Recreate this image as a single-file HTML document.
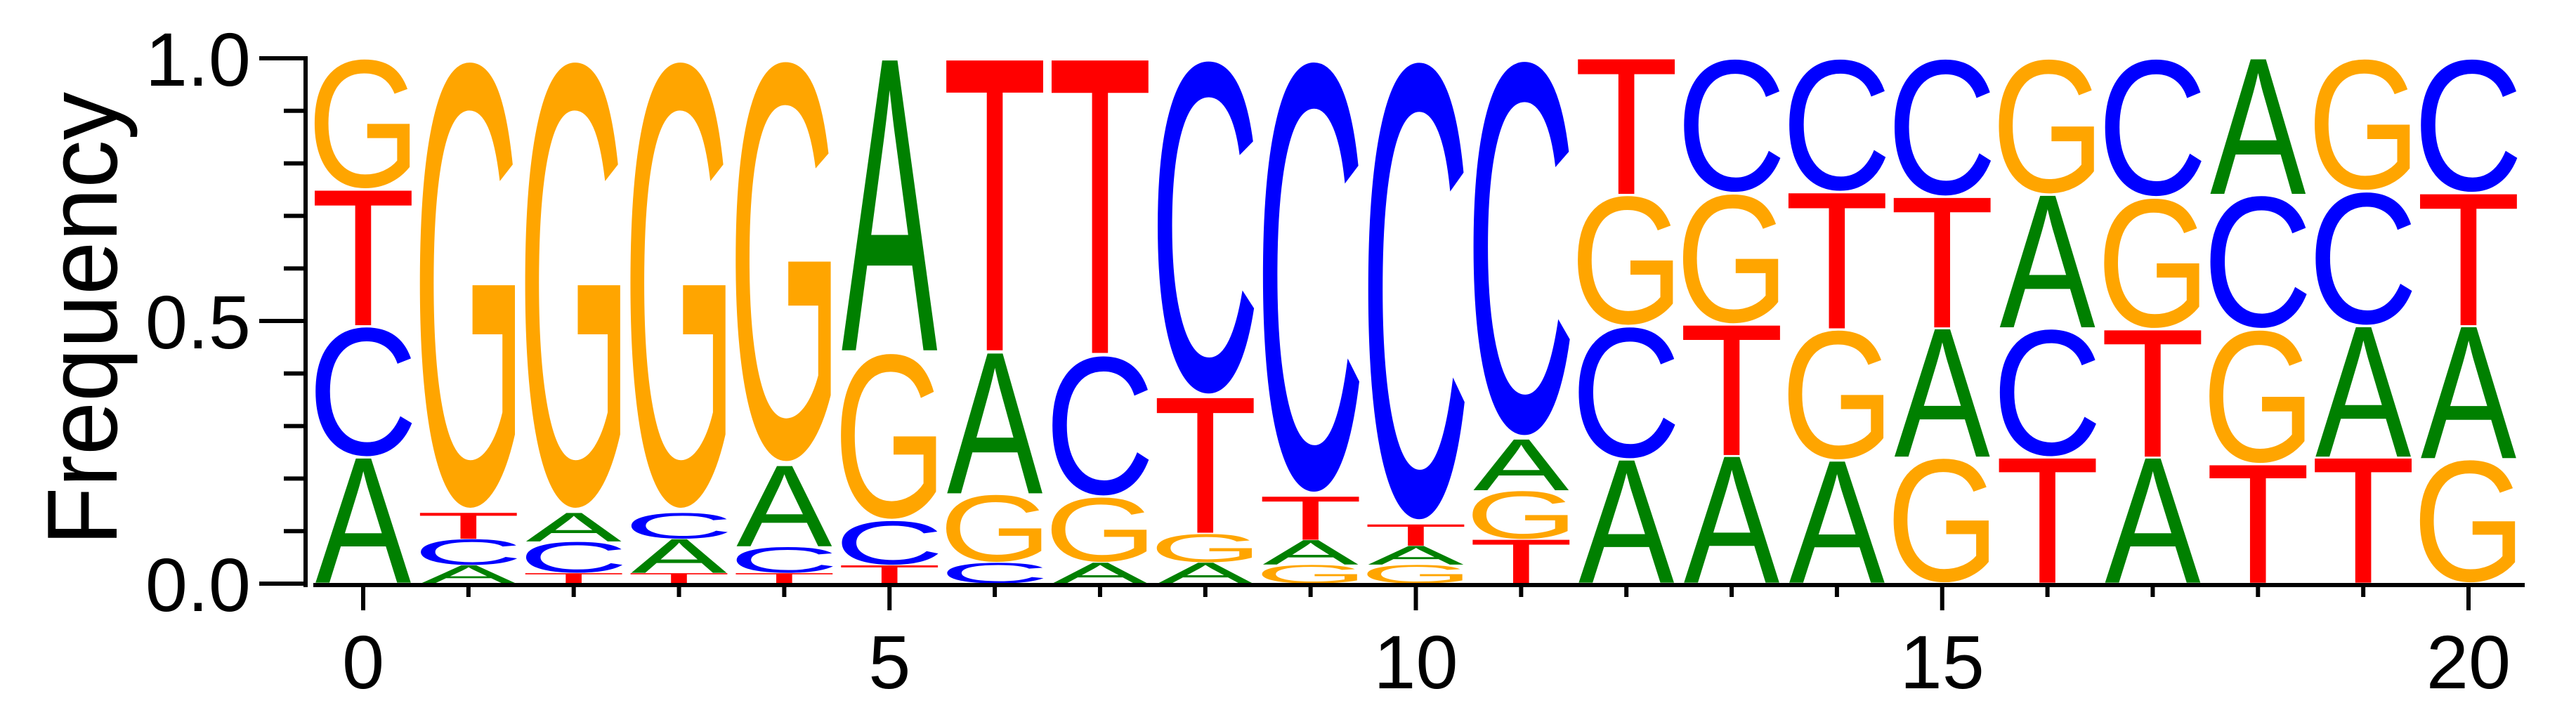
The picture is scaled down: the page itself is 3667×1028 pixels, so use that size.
<!DOCTYPE html>
<html><head><meta charset="utf-8"><style>
html,body{margin:0;padding:0;background:#fff;}
svg{display:block;}
</style></head><body>
<svg id="logo" width="3667" height="1028" viewBox="0 0 3667 1028" xmlns="http://www.w3.org/2000/svg">
<g id="letters"></g>
<g id="axes"></g>
</svg>
<script>
// Per-position stacks, bottom to top
const positions = [0,1,2,3,4,5,6,7,8,9,10,11,12,13,14,15,16,17,18,19,20];
const stackLetters = [
 ["A","C","T","G"],["A","C","T","G"],["T","C","A","G"],["T","A","C","G"],["T","C","A","G"],
 ["T","C","G","A"],["C","G","A","T"],["A","G","C","T"],["A","G","T","C"],["G","A","T","C"],
 ["G","A","T","C"],["T","G","A","C"],["A","C","G","T"],["A","T","G","C"],["A","G","T","C"],
 ["G","A","T","C"],["T","C","A","G"],["A","T","G","C"],["T","G","C","A"],["T","A","C","G"],
 ["G","A","T","C"]
];
const stackValues = [
 [0.24,0.25,0.26,0.25],[0.035,0.05,0.05,0.865],[0.02,0.06,0.055,0.865],[0.02,0.065,0.05,0.865],[0.02,0.05,0.155,0.775],
 [0.035,0.085,0.32,0.56],[0.04,0.13,0.27,0.56],[0.04,0.125,0.27,0.565],[0.04,0.055,0.26,0.645],[0.036,0.047,0.083,0.834],
 [0.036,0.036,0.041,0.887],[0.084,0.093,0.098,0.725],[0.236,0.254,0.25,0.26],[0.243,0.25,0.25,0.257],[0.234,0.25,0.261,0.255],
 [0.24,0.246,0.25,0.264],[0.24,0.246,0.254,0.26],[0.24,0.244,0.251,0.265],[0.227,0.257,0.256,0.26],[0.24,0.25,0.257,0.253],
 [0.237,0.253,0.253,0.257]
];
const yTicks = [0,0.1,0.2,0.3,0.4,0.5,0.6,0.7,0.8,0.9,1.0];
const yTickLabels = {"0":"0.0","0.5":"0.5","1":"1.0"};
const xTickLabels = [0,5,10,15,20];

const NS="http://www.w3.org/2000/svg";
const colors={A:"#008000",C:"#0000ff",G:"#ffa500",T:"#ff0000"};
// ink bbox in font units (Liberation Sans, 2048 upm)
const ink={A:[-3,0,1369,1409],C:[97,-25,1393,1433],G:[109,-25,1463,1433],T:[50,0,1201,1409]};
const X=p=>517+p*149.85;
const Y=f=>831-f*748;
const letterW=137;

const lg=document.getElementById('letters');
positions.forEach((p,i)=>{
  let acc=0;
  stackLetters[i].forEach((L,j)=>{
    const v=stackValues[i][j];
    const y0=Y(acc), y1=Y(acc+v);
    acc+=v;
    const h=(y0-y1)*0.985;
    const b=ink[L];
    const sx=letterW/(b[2]-b[0]), sy=h/(b[3]-b[1]);
    const x0=X(p)-letterW/2;
    const t=document.createElementNS(NS,'text');
    
    
    t.setAttribute('font-family','"Liberation Sans", Arial, sans-serif');
    t.setAttribute('font-size','2048');
    t.setAttribute('fill',colors[L]);
    t.setAttribute('transform',`translate(${x0-b[0]*sx},${y0-(y0-y1-h)/2+b[1]*sy}) scale(${sx},${sy})`);
    t.textContent=L;
    lg.appendChild(t);
  });
});

const ax=document.getElementById('axes');
function line(x1,y1,x2,y2,w,name){
  const l=document.createElementNS(NS,'line');
  
  
  l.setAttribute('x1',x1);l.setAttribute('y1',y1);l.setAttribute('x2',x2);l.setAttribute('y2',y2);
  l.setAttribute('stroke','#000');l.setAttribute('stroke-width',w);
  ax.appendChild(l);
}
function txt(x,y,s,size,anchor,name){
  const t=document.createElementNS(NS,'text');
  
  
  t.setAttribute('x',x);t.setAttribute('y',y);
  t.setAttribute('font-family','"Liberation Sans", Arial, sans-serif');
  t.setAttribute('font-size',size);t.setAttribute('text-anchor',anchor);
  t.textContent=s;ax.appendChild(t);return t;
}
line(435,80,435,836,6,'y-axis-line');
line(446,833,3594,833,6,'x-axis-line');
yTicks.forEach(v=>{
  const key=String(Math.round(v*10)/10);
  const major=yTickLabels[key]!==undefined;
  line(major?369:404,Y(v),435,Y(v),6,'y-tick');
  if(major) txt(357,Y(v)+39,yTickLabels[key],108,'end','y-tick-label');
});
positions.forEach(p=>{
  const major=xTickLabels.indexOf(p)>=0;
  line(X(p),833,X(p),major?869:850,6,'x-tick');
  if(major) txt(X(p),980,String(p),108,'middle','x-tick-label');
});
const yt=txt(0,0,'Frequency',142,'middle','y-axis-title');
yt.setAttribute('textLength','646');
yt.setAttribute('lengthAdjust','spacingAndGlyphs');
yt.setAttribute('transform','translate(166,454) rotate(-90)');
</script>
</body></html>
